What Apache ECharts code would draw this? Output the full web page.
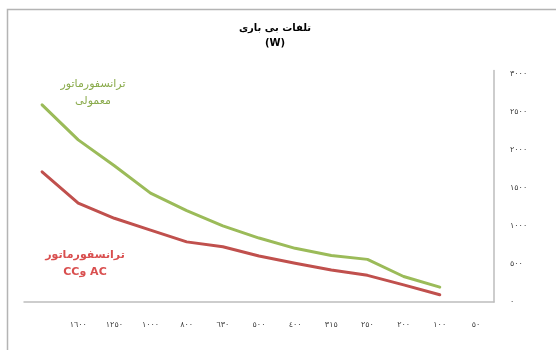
<!DOCTYPE html>
<html>
<head>
<meta charset="utf-8">
<script src="https://cdn.jsdelivr.net/npm/echarts@6/dist/echarts.min.js"></script>
<style>
  html, body { margin: 0; padding: 0; background: #fff; }
  #main_chart { width: 556px; height: 350px; }
</style>
</head>
<body>
<div id="main_chart"></div>
<script>
// kVA ratings shown under the axis (right to left in the original)
var kvaLabels = [1600, 1250, 1000, 800, 630, 500, 400, 315, 250, 200, 100, 50];
// no-load losses (W)
var lossNormal = [2590, 2130, 1790, 1430, 1200, 1000, 840, 705, 610, 560, 335, 195];
var lossAcCc = [1710, 1300, 1100, 945, 790, 725, 605, 510, 420, 350, 225, 95];
var yTicks = [0, 500, 1000, 1500, 2000, 2500, 3000];

var FONT = 'DejaVu Sans, sans-serif';

function toArabicDigits(v) {
    return String(v).replace(/\d/g, function (d) { return '٠١٢٣٤٥٦٧٨٩'[d]; });
}

// the line sits one slot left of its labels, like in the original sheet
var xCats = [''].concat(kvaLabels.map(toArabicDigits));

var myChart = echarts.init(document.getElementById('main_chart'));

var option = {
    animation: false,
    grid: { left: 24, right: 62, top: 70.6, bottom: 48 },
    xAxis: {
        type: 'category',
        data: xCats,
        boundaryGap: true,
        axisLine: { lineStyle: { color: '#bdbdbd', width: 1.5 } },
        axisTick: { show: false },
        axisLabel: { interval: 0, fontSize: 8, color: '#404040', margin: 19, fontFamily: FONT }
    },
    yAxis: {
        type: 'value',
        position: 'right',
        min: yTicks[0],
        max: 3040,
        interval: yTicks[1] - yTicks[0],
        axisLine: { show: true, lineStyle: { color: '#bdbdbd', width: 1.5 } },
        axisTick: { show: false },
        splitLine: { show: false },
        axisLabel: {
            fontSize: 8, color: '#404040', margin: 16, fontFamily: FONT,
            formatter: function (v) {
                return yTicks.indexOf(v) >= 0 ? toArabicDigits(v) : '';
            }
        }
    },
    series: [
        {
            type: 'line',
            data: lossNormal,
            symbol: 'none',
            lineStyle: { color: '#9bbb59', width: 3, cap: 'round', join: 'round' }
        },
        {
            type: 'line',
            data: lossAcCc,
            symbol: 'none',
            lineStyle: { color: '#c0504d', width: 3, cap: 'round', join: 'round' }
        }
    ],
    graphic: [
        {
            type: 'rect', z: -1, silent: true,
            shape: { x: 7.5, y: 9.5, width: 620, height: 420 },
            style: { fill: 'none', stroke: '#b4b4b4', lineWidth: 1.5 }
        },
        {
            type: 'text',
            style: { text: 'تلفات بی باری', x: 275, y: 28, align: 'center', verticalAlign: 'middle',
                     fontSize: 10, fontWeight: 'bold', fontFamily: FONT, fill: '#000' }
        },
        {
            type: 'text',
            style: { text: '(W)', x: 275, y: 43, align: 'center', verticalAlign: 'middle',
                     fontSize: 10, fontWeight: 'bold', fontFamily: FONT, fill: '#000' }
        },
        {
            type: 'text',
            style: { text: 'ترانسفورماتور', x: 93, y: 84, align: 'center', verticalAlign: 'middle',
                     fontSize: 11, fontFamily: FONT, fill: '#8aab4c' }
        },
        {
            type: 'text',
            style: { text: 'معمولی', x: 93, y: 101, align: 'center', verticalAlign: 'middle',
                     fontSize: 11, fontFamily: FONT, fill: '#8aab4c' }
        },
        {
            type: 'text',
            style: { text: 'ترانسفورماتور', x: 85, y: 255, align: 'center', verticalAlign: 'middle',
                     fontSize: 11, fontWeight: 'bold', fontFamily: FONT, fill: '#d94f4f' }
        },
        {
            type: 'text',
            style: { text: '\u202BAC وCC\u202C', x: 85, y: 272, align: 'center', verticalAlign: 'middle',
                     fontSize: 11, fontWeight: 'bold', fontFamily: FONT, fill: '#d94f4f' }
        }
    ]
};
myChart.setOption(option);
</script>
</body>
</html>
